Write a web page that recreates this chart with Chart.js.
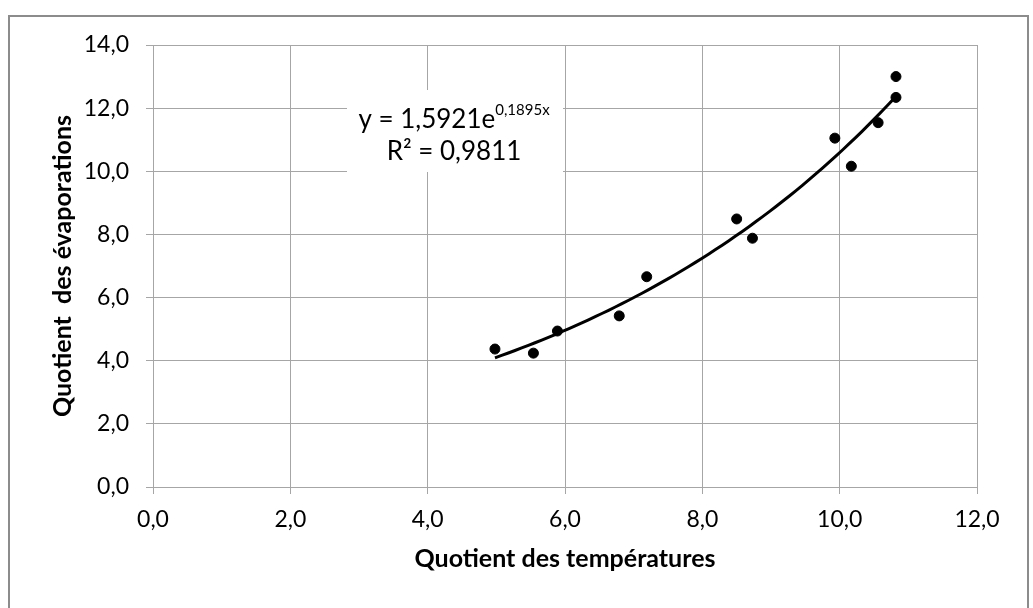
<!DOCTYPE html>
<html>
<head>
<meta charset="utf-8">
<script src="https://cdn.jsdelivr.net/npm/chart.js@4.4.1/dist/chart.umd.min.js"></script>
<style>
  html, body { margin: 0; padding: 0; background: #fff; }
  #wrap { width: 1033px; height: 608px; }
</style>
</head>
<body>
<div id="wrap"><canvas id="evapChart" width="1033" height="608"></canvas></div>
<script>
// Mesures : quotient des températures (x) / quotient des évaporations (y)
const tempQuotient = [4.98, 5.54, 5.89, 6.79, 7.19, 8.50, 8.73, 9.93, 10.17, 10.56, 10.82, 10.82];
const evapQuotient = [4.37, 4.24, 4.94, 5.42, 6.66, 8.49, 7.88, 11.05, 10.16, 11.54, 13.00, 12.34];

// Courbe de tendance exponentielle y = a·e^(b·x)
const trendA = 1.5921;
const trendB = 0.1895;
const trendR2 = '0,9811';

const xTicks = [0, 2, 4, 6, 8, 10, 12];
const yTicks = [0, 2, 4, 6, 8, 10, 12, 14];

const FONT = 'Lato, "Open Sans", sans-serif';
const GRID = '#a6a6a6';

const fmt = v => v.toFixed(1).replace('.', ',');

const points = tempQuotient.map((x, i) => ({ x: x, y: evapQuotient[i] }));

// points de la tendance, entre le min et le max des mesures
const xMin = Math.min(...tempQuotient);
const xMax = Math.max(...tempQuotient);
const trendPoints = [];
for (let i = 0; i <= 60; i++) {
    const x = xMin + (xMax - xMin) * i / 60;
    trendPoints.push({ x: x, y: trendA * Math.exp(trendB * x) });
}

// cadre gris autour du graphique + étiquette de l'équation
const decorPlugin = {
    id: 'decor',
    afterDraw(chart) {
        const ctx = chart.ctx;
        ctx.save();
        ctx.strokeStyle = '#8c8c8c';
        ctx.lineWidth = 2;
        ctx.strokeRect(9, 16, 1019, 600);

        // fond blanc de l'étiquette
        ctx.fillStyle = '#fff';
        ctx.fillRect(347, 90, 216, 82);

        ctx.fillStyle = '#000';
        ctx.textBaseline = 'alphabetic';
        const cx = 454;
        const main = 'y = ' + String(trendA).replace('.', ',') + 'e';
        const sup = String(trendB).replace('.', ',') + 'x';
        ctx.font = '26px ' + FONT;
        const wMain = ctx.measureText(main).width;
        ctx.font = '15px ' + FONT;
        const wSup = ctx.measureText(sup).width;
        const x0 = cx - (wMain + wSup) / 2;
        ctx.font = '26px ' + FONT;
        ctx.textAlign = 'left';
        ctx.fillText(main, x0, 128);
        ctx.font = '15px ' + FONT;
        ctx.fillText(sup, x0 + wMain, 115);

        ctx.font = '26px ' + FONT;
        ctx.textAlign = 'center';
        ctx.fillText('R² = ' + trendR2, cx, 160);
        ctx.restore();
    }
};

new Chart(document.getElementById('evapChart'), {
    type: 'scatter',
    data: {
        datasets: [
            {
                label: 'Mesures',
                data: points,
                backgroundColor: '#000',
                borderColor: '#000',
                pointRadius: 5,
                pointHoverRadius: 5
            },
            {
                label: 'Tendance',
                data: trendPoints,
                showLine: true,
                borderColor: '#000',
                borderWidth: 3,
                pointRadius: 0,
                tension: 0
            }
        ]
    },
    options: {
        responsive: false,
        animation: false,
        layout: { padding: { left: 0, right: 56, top: 45, bottom: 0 } },
        plugins: {
            legend: { display: false },
            tooltip: { enabled: false }
        },
        scales: {
            x: {
                type: 'linear',
                min: 0,
                max: 12,
                afterBuildTicks: s => { s.ticks = xTicks.map(v => ({ value: v })); },
                afterFit: s => { s.height = 121; },
                grid: { color: GRID, tickLength: 7, lineWidth: 1 },
                border: { color: GRID },
                ticks: {
                    color: '#000',
                    font: { family: FONT, size: 23 },
                    padding: 12,
                    callback: v => fmt(v)
                },
                title: {
                    display: true,
                    text: 'Quotient des températures',
                    color: '#000',
                    font: { family: FONT, size: 25, weight: 'bold' },
                    padding: { top: 0, bottom: 34 }
                }
            },
            y: {
                type: 'linear',
                min: 0,
                max: 14,
                afterBuildTicks: s => { s.ticks = yTicks.map(v => ({ value: v })); },
                afterFit: s => { s.width = 153; },
                grid: { color: GRID, tickLength: 7, lineWidth: 1 },
                border: { color: GRID },
                ticks: {
                    color: '#000',
                    font: { family: FONT, size: 23 },
                    padding: 17,
                    callback: v => fmt(v)
                },
                title: {
                    display: true,
                    text: 'Quotient  des évaporations',
                    color: '#000',
                    font: { family: FONT, size: 25, weight: 'bold' },
                    padding: { top: 48, bottom: 0 }
                }
            }
        }
    },
    plugins: [decorPlugin]
});
</script>
</body>
</html>
